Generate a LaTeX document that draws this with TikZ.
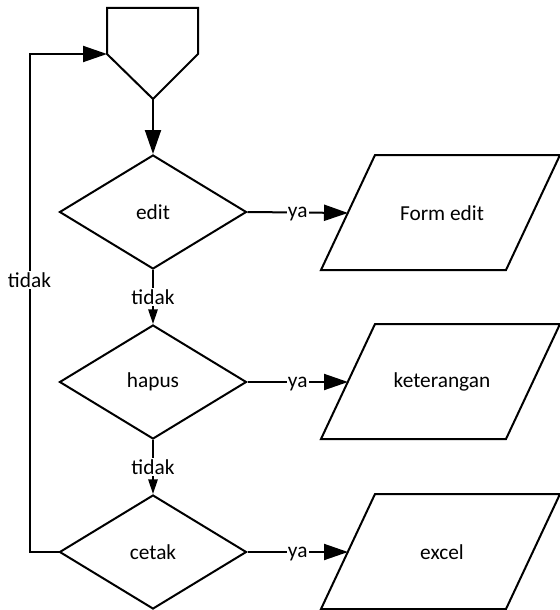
\documentclass[tikz,border=0pt]{standalone}
\usepackage{fontspec}
\setmainfont{Carlito}
\usetikzlibrary{shapes.geometric,arrows.meta,calc}
\begin{document}
\begin{tikzpicture}[x=0.75pt,y=-0.75pt,line width=1.5pt,line join=miter,
  txt/.style={font=\fontsize{16}{19}\selectfont},
  dec/.style={diamond,draw,minimum width=140.25pt,minimum height=85.5pt,inner sep=0pt,txt},
  iotext/.style={inner sep=0pt,txt},
  lbl/.style={fill=white,inner sep=1pt,txt},
  yalbl/.style={lbl,text height=7.6pt,text depth=0pt},
  bigarrow/.style={-{Triangle[length=18pt,width=12pt]}},
  smallarrow/.style={-{Triangle[length=11pt,width=7pt]}}]
\useasboundingbox (0,0) rectangle (560,610);
% off-page connector
\draw (107,8) -- (198,8) -- (198,54) -- (153,99) -- (107,54) -- cycle;
\coordinate (offin) at (107,54);
\coordinate (offtip) at (153,99);
% decisions
\node[dec] (edit) at (153,212) {edit};
\node[dec] (hapus) at (153,382) {hapus};
\node[dec] (cetak) at (153,552) {cetak};
% outputs
\node[iotext] (fe) at (442,213) {Form edit};
\draw ($(fe)+(-67,-58)$) -- ($(fe)+(118,-58)$) -- ($(fe)+(64,57)$) -- ($(fe)+(-121,57)$) -- cycle;
\coordinate (fein) at ($(fe)+(-94,0)$);
\node[iotext] (ket) at (442,382) {keterangan};
\draw ($(ket)+(-67,-58)$) -- ($(ket)+(118,-58)$) -- ($(ket)+(64,57)$) -- ($(ket)+(-121,57)$) -- cycle;
\coordinate (ketin) at ($(ket)+(-94,0)$);
\node[iotext] (exc) at (442,552) {excel};
\draw ($(exc)+(-67,-58)$) -- ($(exc)+(118,-58)$) -- ($(exc)+(64,57)$) -- ($(exc)+(-121,57)$) -- cycle;
\coordinate (excin) at ($(exc)+(-94,0)$);
% connectors
\draw[bigarrow] (offtip) -- (edit.north);
\draw[bigarrow] (edit.east) -- node[yalbl]{ya} (fein);
\draw[bigarrow] (hapus.east) -- node[yalbl]{ya} (ketin);
\draw[bigarrow] (cetak.east) -- node[yalbl]{ya} (excin);
\draw[smallarrow] (edit.south) -- node[lbl]{tidak} (hapus.north);
\draw[smallarrow] (hapus.south) -- node[lbl]{tidak} (cetak.north);
\draw[bigarrow] (cetak.west) -- ++(-29,0) |- node[lbl,pos=0.273]{tidak} (offin);
\end{tikzpicture}
\end{document}
